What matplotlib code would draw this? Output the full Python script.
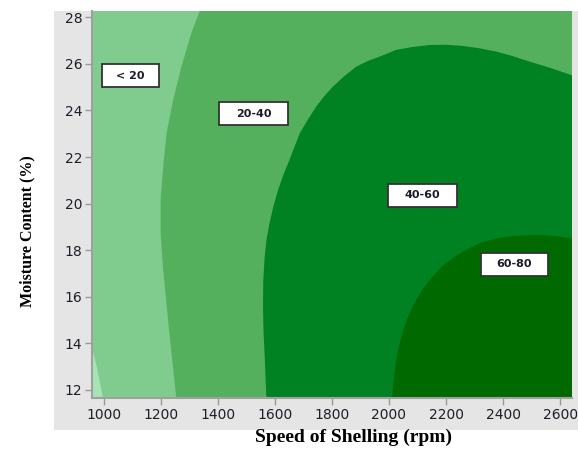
import matplotlib
matplotlib.use("Agg")
import matplotlib.pyplot as plt
from matplotlib.patches import Rectangle

# axis ranges (rpm, %)
x_lim = (958, 2642)
y_lim = (11.64, 28.27)

# contour boundaries
c0_x = [997, 988, 975, 958]
c0_y = [11.64, 12.2, 13.0, 13.85]

c20_x = [1254, 1242, 1224, 1207, 1199, 1199, 1208, 1220, 1243, 1272, 1307, 1336]
c20_y = [11.64, 13.0, 15.14, 17.28, 18.74, 20.16, 21.59, 23.04, 24.45, 25.88, 27.33, 28.27]

c40_x = [1570, 1564, 1560, 1558, 1559, 1564, 1571, 1581, 1595, 1611, 1630, 1651, 1687,
         1715, 1745, 1772, 1803, 1843, 1885, 1925, 1967, 2025, 2080, 2142, 2200, 2258,
         2317, 2375, 2435, 2492, 2565, 2642]
c40_y = [11.64, 13.43, 14.5, 15.58, 16.7, 17.73, 18.5, 19.16, 19.9, 20.59, 21.25, 21.88, 23.02,
         23.6, 24.17, 24.6, 25.02, 25.47, 25.88, 26.12, 26.31, 26.60, 26.72, 26.81, 26.82, 26.77,
         26.67, 26.53, 26.33, 26.10, 25.83, 25.51]

c60_x = [2011, 2017, 2025, 2038, 2054, 2073, 2095, 2122, 2153, 2186, 2223, 2268, 2317,
         2375, 2434, 2527, 2585, 2642]
c60_y = [11.64, 12.5, 13.29, 14.05, 14.72, 15.32, 15.87, 16.4, 16.87, 17.3, 17.66, 18.0, 18.30,
         18.5, 18.61, 18.66, 18.6, 18.51]

band_labels = ["< 20", "20-40", "40-60", "60-80"]
label_x = [1092, 1525, 2118, 2440]
label_y = [25.48, 23.85, 20.36, 17.40]

x_ticks = [1000, 1200, 1400, 1600, 1800, 2000, 2200, 2400, 2600]
y_ticks = [12, 14, 16, 18, 20, 22, 24, 26, 28]

colors = ["#a8e3b6", "#80cc8e", "#55b05e", "#008223", "#006a00"]

fig = plt.figure(figsize=(5.78, 4.5), dpi=100)
fig.patches.append(Rectangle((0.0934, 0.0444), 0.9066, 0.9312, transform=fig.transFigure,
                             facecolor="#e5e5e5", edgecolor="none", zorder=-1))
ax = fig.add_axes([0.159, 0.1149, 0.8307, 0.8607])
ax.set_facecolor(colors[0])

x0, x1 = x_lim
y0, y1 = y_lim

# <20 band and up: everything right of the lowest contour
ax.fill(c0_x + [x0, x1, x1], c0_y + [y1, y1, y0], color=colors[1], lw=0)
# 20-40 and up
ax.fill(c20_x + [x1, x1], c20_y + [y1, y0], color=colors[2], lw=0)
# 40-60 and up
ax.fill(c40_x + [x1], c40_y + [y0], color=colors[3], lw=0)
# 60-80
ax.fill(c60_x + [x1], c60_y + [y0], color=colors[4], lw=0)

# band labels in boxes
box_w = [200, 242, 242, 238]
box_h = 0.99
for lab, lx, ly, bw in zip(band_labels, label_x, label_y, box_w):
    ax.add_patch(Rectangle((lx - bw / 2, ly - box_h / 2), bw, box_h, facecolor="white",
                           edgecolor="#333333", lw=1.3, zorder=3))
    ax.text(lx, ly, lab, ha="center", va="center", fontsize=8, fontweight="bold",
            color="#1a1a2a", zorder=4)

ax.set_xlim(x_lim)
ax.set_ylim(y_lim)
ax.set_xticks(x_ticks)
ax.set_yticks(y_ticks)
ax.tick_params(direction="out", length=5, width=1, color="#999999", labelsize=10,
               labelcolor="#1e1e2a", pad=2)
for s in ["top", "right"]:
    ax.spines[s].set_visible(False)
for s in ["left", "bottom"]:
    ax.spines[s].set_color("#a0a0a0")
    ax.spines[s].set_linewidth(1.5)

fig.text(0.612, 0.028, "Speed of Shelling (rpm)", ha="center", va="center",
         family="Liberation Serif", fontweight="bold", fontsize=14)
fig.text(0.048, 0.487, "Moisture Content (%)", ha="center", va="center", rotation=90,
         family="Liberation Serif", fontweight="bold", fontsize=11.5)

fig.savefig("out.png", dpi=100)
